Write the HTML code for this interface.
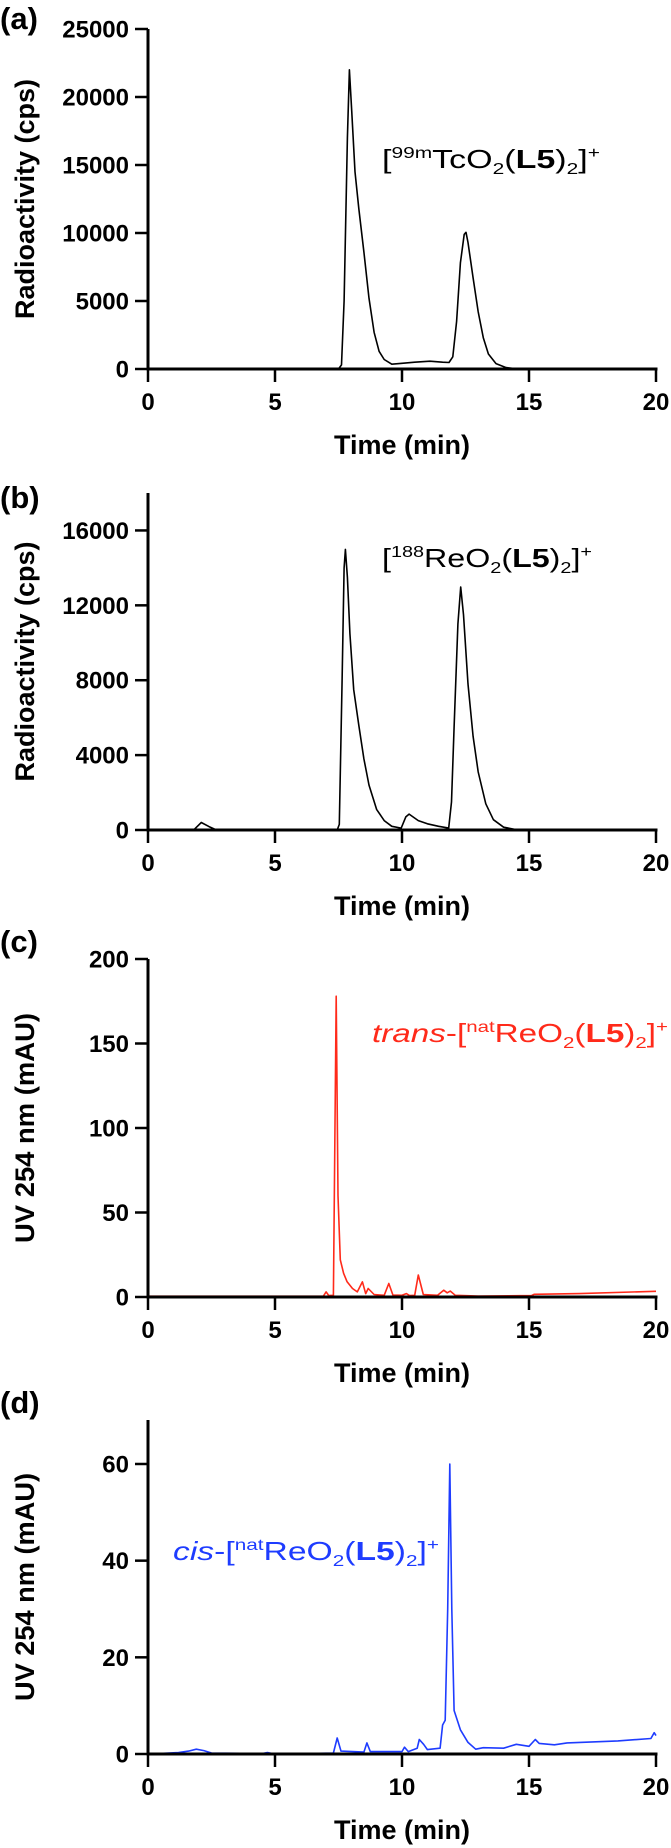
<!DOCTYPE html>
<html><head><meta charset="utf-8"><style>
html,body{margin:0;padding:0;background:#fff;}
svg{display:block;}
text{font-family:"Liberation Sans",sans-serif;}
</style></head><body>
<svg id="fig" width="671" height="1848" viewBox="0 0 671 1848" xmlns="http://www.w3.org/2000/svg" style="position:absolute;left:0;top:0"></svg>
<script>
// Panel (a)
const timesA=[0,7.5,7.62,7.72,7.85,7.93,8.02,8.15,8.3,8.5,8.7,8.9,9.1,9.3,9.6,10.0,10.5,11.1,11.6,11.85,12.0,12.15,12.3,12.45,12.52,12.6,12.8,13.0,13.2,13.4,13.7,14.1,14.6,20];
const valuesA=[0,0,300,5000,17000,22000,19000,14500,11800,8600,5200,2700,1300,700,350,420,500,570,500,480,900,3500,7800,9900,10050,9300,6700,4200,2300,1100,400,100,0,0];
const ticksA=[0,5000,10000,15000,20000,25000];
// Panel (b)
const timesB=[0,1.8,1.91,2.1,2.4,2.64,7.45,7.53,7.64,7.72,7.77,7.85,7.95,8.1,8.3,8.5,8.7,9.0,9.3,9.6,9.97,10.15,10.28,10.64,11.0,11.44,11.84,11.95,12.05,12.2,12.31,12.42,12.6,12.8,13.0,13.3,13.6,14.0,14.5,20];
const valuesB=[0,0,150,400,180,30,0,300,8000,14000,14990,13500,10500,7500,5600,3800,2400,1100,500,200,100,700,850,500,330,200,100,1500,5500,11000,12980,11500,7800,5000,3100,1400,550,150,20,0];
const ticksB=[0,4000,8000,12000,16000];
// Panel (c)
const timesC=[0,6.9,7.01,7.12,7.3,7.41,7.48,7.57,7.7,7.84,8.05,8.24,8.44,8.57,8.67,8.9,9.3,9.48,9.64,10.0,10.17,10.3,10.5,10.64,10.84,11.4,11.64,11.78,11.9,12.1,13,15.1,15.2,17,19.97,20];
const valuesC=[0.5,0.5,3,0.8,1,178,60,22,14,9,5,3,9,2,5,1.5,1,8,1.2,1,2,0.8,1,13,1.5,1,4,2.5,3.5,1,0.6,0.8,1.6,2,3.4,3.4];
const ticksC=[0,50,100,150,200];
// Panel (d)
const timesD=[0,1.2,1.6,1.9,2.2,2.5,4.5,4.7,5,7.3,7.45,7.6,8.5,8.62,8.75,10.0,10.1,10.25,10.6,10.68,10.85,11.0,11.5,11.6,11.7,11.8,11.88,11.96,12.05,12.3,12.6,12.9,13.2,14.0,14.5,15.0,15.25,15.4,16.0,16.5,18.5,19.8,19.93,20];
const valuesD=[0,0.3,0.6,1.0,0.7,0.2,0.1,0.3,0,0.2,3.3,0.6,0.4,2.3,0.5,0.5,1.4,0.5,1.2,3.0,2.0,0.9,1.2,6,7,30,60,30,9,5,2.4,1.0,1.3,1.2,2.0,1.6,3.0,2.2,1.9,2.3,2.7,3.2,4.4,3.8];
const ticksD=[0,20,40,60];
const xTicks=[0,5,10,15,20];

const NS="http://www.w3.org/2000/svg";
const svg=document.getElementById('fig');
function mk(tag,attrs,parent){const e=document.createElementNS(NS,tag);for(const k in attrs)e.setAttribute(k,attrs[k]);(parent||svg).appendChild(e);return e;}
const X0=148,X1=656;
function xs(t){return X0+(t/20)*(X1-X0);}

const panels=[
 {id:'a',label:'(a)',labY:29,top:29,bot:369,ymax:25000,times:timesA,vals:valuesA,ticks:ticksA,color:'#000',title:'Radioactivity (cps)',tlen:240,sw:1.6},
 {id:'b',label:'(b)',labY:508,top:493,bot:830,ymax:18000,times:timesB,vals:valuesB,ticks:ticksB,color:'#000',title:'Radioactivity (cps)',tlen:240,sw:1.6},
 {id:'c',label:'(c)',labY:952,top:959,bot:1297,ymax:200,times:timesC,vals:valuesC,ticks:ticksC,color:'#ff2a1a',title:'UV 254 nm (mAU)',tlen:230,sw:1.6},
 {id:'d',label:'(d)',labY:1413,top:1420,bot:1754,ymax:69.1,times:timesD,vals:valuesD,ticks:ticksD,color:'#1e3cff',title:'UV 254 nm (mAU)',tlen:228,sw:1.6}
];

panels.forEach(p=>{
  const g=mk('g',{});
  
  
  const ys=v=>p.bot-(v/p.ymax)*(p.bot-p.top);
  const lab=mk('text',{x:0,y:p.labY,'font-size':31,'font-weight':'bold',fill:'#000'},g);
  lab.textContent=p.label;
  
  
  const yc=(p.top+p.bot)/2;
  const yt=mk('text',{x:0,y:0,transform:`translate(34,${yc}) rotate(-90)`,'text-anchor':'middle','font-size':27,'font-weight':'bold',textLength:p.tlen,lengthAdjust:'spacingAndGlyphs',fill:'#000'},g);
  yt.textContent=p.title;
  
  
  p.ticks.forEach(v=>{
    const y=ys(v);
    const tk=mk('line',{x1:135,x2:X0,y1:y,y2:y,stroke:'#000','stroke-width':2.5},g);
    
    
    const tl=mk('text',{x:129,y:y+8.5,'text-anchor':'end','font-size':24,'font-weight':'bold',fill:'#000'},g);
    tl.textContent=String(v);
    
    
  });
  xTicks.forEach(t=>{
    const x=xs(t);
    const tk=mk('line',{x1:x,x2:x,y1:p.bot,y2:p.bot+13,stroke:'#000','stroke-width':2.5},g);
    
    
    const tl=mk('text',{x:x,y:p.bot+41,'text-anchor':'middle','font-size':24,'font-weight':'bold',fill:'#000'},g);
    tl.textContent=String(t);
    
    
  });
  const xt=mk('text',{x:(X0+X1)/2,y:p.bot+85,'text-anchor':'middle','font-size':27,'font-weight':'bold',fill:'#000'},g);
  xt.textContent='Time (min)';
  
  
  const pts=p.times.map((t,i)=>xs(t).toFixed(1)+','+ys(p.vals[i]).toFixed(1)).join(' ');
  const pl=mk('polyline',{points:pts,fill:'none',stroke:p.color,'stroke-width':p.sw,'stroke-linejoin':'round'},g);
  
  
  const ya=mk('line',{x1:X0,x2:X0,y1:p.top,y2:p.bot+1.5,stroke:'#000','stroke-width':3},g);
  
  
  const xa=mk('line',{x1:X0-1.5,x2:X1+1.5,y1:p.bot,y2:p.bot,stroke:'#000','stroke-width':3},g);
  
  
});
</script>
<svg width="671" height="1848" style="position:absolute;left:0;top:0">
 <text x="382" y="168" font-size="26" fill="#000" textLength="218" lengthAdjust="spacingAndGlyphs">[<tspan font-size="16" dy="-10">99m</tspan><tspan dy="10">TcO</tspan><tspan font-size="16" dy="6">2</tspan><tspan dy="-6">(</tspan><tspan font-weight="bold">L5</tspan>)<tspan font-size="16" dy="6">2</tspan><tspan dy="-6">]</tspan><tspan font-size="16" dy="-10">+</tspan></text>
 <text x="382" y="567" font-size="26" fill="#000" textLength="210" lengthAdjust="spacingAndGlyphs">[<tspan font-size="16" dy="-10">188</tspan><tspan dy="10">ReO</tspan><tspan font-size="16" dy="6">2</tspan><tspan dy="-6">(</tspan><tspan font-weight="bold">L5</tspan>)<tspan font-size="16" dy="6">2</tspan><tspan dy="-6">]</tspan><tspan font-size="16" dy="-10">+</tspan></text>
 <text x="372" y="1042" font-size="26" fill="#ff2a1a" textLength="296" lengthAdjust="spacingAndGlyphs"><tspan font-style="italic">trans</tspan>-[<tspan font-size="16" dy="-10">nat</tspan><tspan dy="10">ReO</tspan><tspan font-size="16" dy="6">2</tspan><tspan dy="-6">(</tspan><tspan font-weight="bold">L5</tspan>)<tspan font-size="16" dy="6">2</tspan><tspan dy="-6">]</tspan><tspan font-size="16" dy="-10">+</tspan></text>
 <text x="173" y="1560" font-size="26" fill="#1e3cff" textLength="266" lengthAdjust="spacingAndGlyphs"><tspan font-style="italic">cis</tspan>-[<tspan font-size="16" dy="-10">nat</tspan><tspan dy="10">ReO</tspan><tspan font-size="16" dy="6">2</tspan><tspan dy="-6">(</tspan><tspan font-weight="bold">L5</tspan>)<tspan font-size="16" dy="6">2</tspan><tspan dy="-6">]</tspan><tspan font-size="16" dy="-10">+</tspan></text>
</svg>
</body></html>
